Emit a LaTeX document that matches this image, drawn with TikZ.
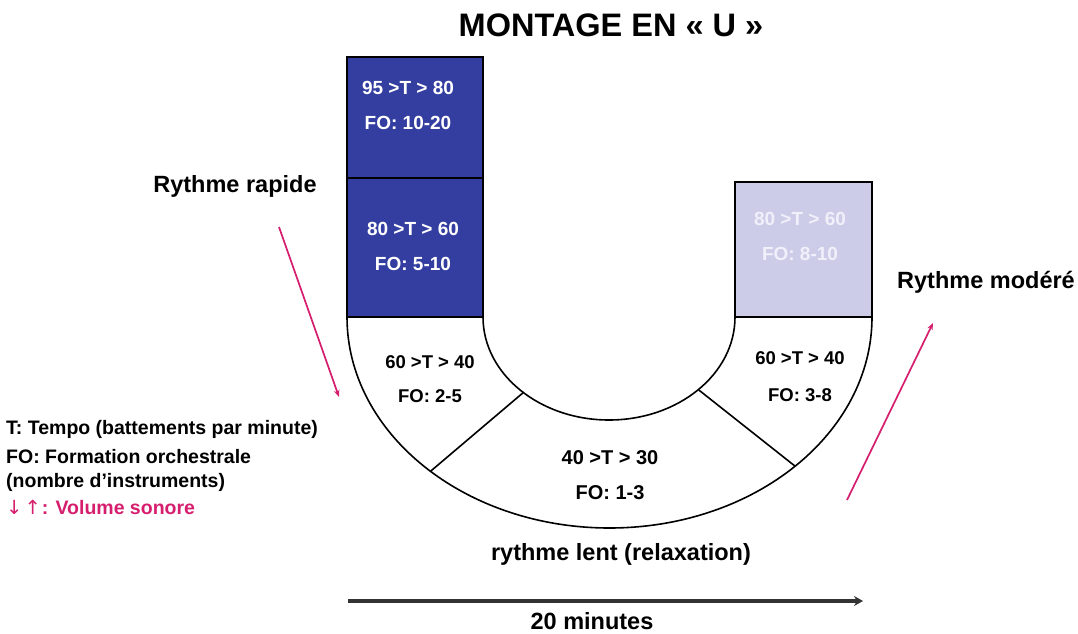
\documentclass[tikz,border=0pt]{standalone}
\usepackage{fontspec}
\setmainfont{Liberation Sans}
\newfontfamily\arrowfont{DejaVu Sans}
\usetikzlibrary{arrows.meta,calc}
\definecolor{ublue}{RGB}{52,62,160}
\definecolor{ulav}{RGB}{204,204,232}
\definecolor{umag}{RGB}{214,30,110}
\definecolor{ulavtxt}{RGB}{240,240,250}
\begin{document}
\begin{tikzpicture}[x=1pt,y=1pt,
  boxnode/.style={draw=black, line width=1.6pt, inner sep=0pt, outer sep=0pt},
  boxtxt/.style={inner sep=0pt, align=center, font=\fontsize{19}{35}\selectfont\bfseries},
  lbl/.style={inner sep=0pt, font=\fontsize{23.5}{28}\selectfont\bfseries},
  legend/.style={inner sep=0pt, anchor=base west, font=\fontsize{19.5}{23}\selectfont\bfseries},
  segline/.style={draw=black, line width=1.6pt},
  magarrow/.style={draw=umag, line width=1.7pt, -{Stealth[length=7pt,width=5.5pt]}},
  timearrow/.style={draw=black!80, line width=3.4pt, -{Stealth[length=9pt,width=10pt]}}
]
\useasboundingbox (0,0) rectangle (1078,633);
\fill[white] (0,0) rectangle (1078,633);

% title
\node[lbl, anchor=base, font=\fontsize{32.5}{36}\selectfont\bfseries] (title) at (611,596) {MONTAGE EN « U »};

% U annulus
\draw[segline, fill=white] (347,316) arc[start angle=180, end angle=360, x radius=262.5, y radius=211]
  -- (735,316) arc[start angle=0, end angle=-180, x radius=126, y radius=103] -- cycle;
\coordinate (ctr) at (609.5,316);
\coordinate (i1) at ($(ctr)+(227:126 and 103)$);
\coordinate (o1) at ($(ctr)+(227:262.5 and 211)$);
\coordinate (i2) at ($(ctr)+(315:126 and 103)$);
\coordinate (o2) at ($(ctr)+(315:262.5 and 211)$);
\draw[segline] (i1) -- (o1);
\draw[segline] (i2) -- (o2);

% boxes
\node[boxnode, fill=ublue, minimum width=136pt, minimum height=121pt] (b1) at (415,515.5) {};
\node[boxnode, fill=ublue, minimum width=136pt, minimum height=139pt] (b2) at (415,385.5) {};
\node[boxnode, fill=ulav, minimum width=137pt, minimum height=135pt] (b3) at (803.5,383.5) {};

\node[boxtxt, text=white] (t1) at (408,527.5) {95 >T > 80\\FO: 10-20};
\node[boxtxt, text=white] (t2) at (413,386.5) {80 >T > 60\\FO: 5-10};
\node[boxtxt, text=ulavtxt] (t3) at (800,397) {80 >T > 60\\FO: 8-10};

\node[boxtxt, font=\fontsize{18.5}{34}\selectfont\bfseries] (s1) at (430,254) {60 >T > 40\\FO: 2-5};
\node[boxtxt, font=\fontsize{20}{35}\selectfont\bfseries] (s2) at (610,157.5) {40 >T > 30\\FO: 1-3};
\node[boxtxt, font=\fontsize{18.5}{37}\selectfont\bfseries] (s3) at (800,256.5) {60 >T > 40\\FO: 3-8};

% labels
\node[lbl, anchor=base] (rapide) at (235,440) {Rythme rapide};
\node[lbl, anchor=base] (modere) at (986,345) {Rythme modéré};
\node[lbl, anchor=base] (lent) at (621,73) {rythme lent (relaxation)};
\node[lbl, anchor=base] (minutes) at (592,4) {20 minutes};

% legend
\node[legend] (l1) at (6,199) {T: Tempo (battements par minute)};
\node[legend] (l2) at (6,170) {FO: Formation orchestrale};
\node[legend] (l3) at (6,146) {(nombre d’instruments)};
\node[legend, text=umag] (l4) at (6,119) {{\arrowfont\mdseries ↓\hspace{2pt}↑}\hspace{1pt}: Volume sonore};

% arrows
\coordinate (ma1) at (279,406);
\coordinate (mb1) at (339,236);
\coordinate (ma2) at (847,133);
\coordinate (mb2) at (933,310);
\draw[magarrow] (ma1) -- (mb1);
\draw[magarrow] (ma2) -- (mb2);

\coordinate (ta) at (348,32);
\coordinate (tb) at (863,32);
\draw[timearrow] (ta) -- (tb);
\end{tikzpicture}
\end{document}
